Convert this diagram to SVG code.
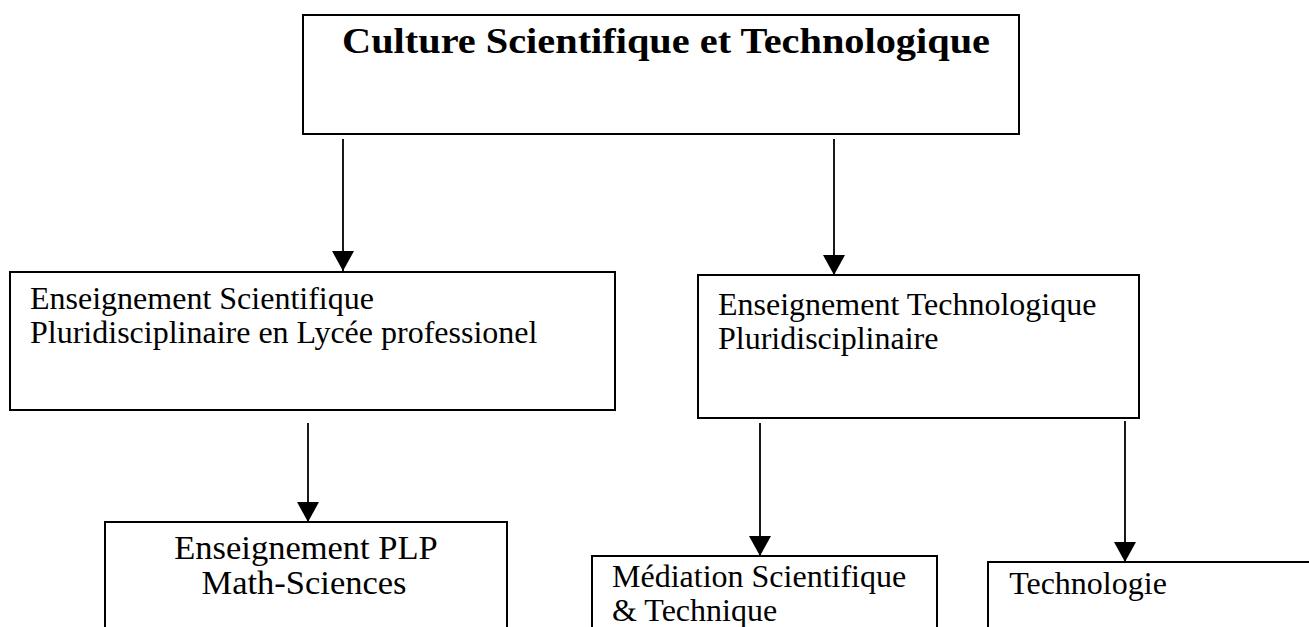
<svg xmlns="http://www.w3.org/2000/svg" width="1309" height="627" viewBox="0 0 1309 627">
<style>
.box{fill:#fff;stroke:#000;stroke-width:2}
.t{font-family:"Liberation Serif","Times New Roman",serif;font-size:32px;fill:#000}
.p{font-family:"Liberation Serif","Palatino Linotype",serif;font-size:34.5px;fill:#000}
.b{font-family:"Liberation Serif","Palatino Linotype",serif;font-size:35px;font-weight:bold;fill:#000}
.c{stroke:#000;stroke-width:1.8;fill:none;marker-end:url(#ah)}
</style>
<defs>
<marker id="ah" markerUnits="userSpaceOnUse" markerWidth="22" markerHeight="22" refX="20" refY="11" orient="auto">
<path d="M0,0 L20,11 L0,22 z" fill="#000"/>
</marker>
</defs>
<rect width="1309" height="627" fill="#fff"/>
<g id="connectors">
<line class="c" x1="343" y1="139" x2="343" y2="271"/>
<line class="c" x1="834" y1="139" x2="834" y2="275"/>
<line class="c" x1="308" y1="423" x2="308" y2="522"/>
<line class="c" x1="760" y1="423" x2="760" y2="556"/>
<line class="c" x1="1125" y1="421" x2="1125" y2="562"/>
</g>
<g id="culture">
<rect class="box" x="303" y="15" width="716" height="119"/>
<text class="b" x="342" y="53" textLength="648" lengthAdjust="spacingAndGlyphs">Culture Scientifique et Technologique</text>
</g>
<g id="esp">
<rect class="box" x="10" y="272" width="605" height="138"/>
<text class="t" x="30" y="309">Enseignement Scientifique</text>
<text class="t" x="30" y="343">Pluridisciplinaire en Lycée professionel</text>
</g>
<g id="etp">
<rect class="box" x="698" y="275" width="441" height="143"/>
<text class="t" x="718" y="315">Enseignement Technologique</text>
<text class="t" x="718" y="349">Pluridisciplinaire</text>
</g>
<g id="plp">
<rect class="box" x="105" y="522" width="402" height="120"/>
<text class="p" x="306" y="559" text-anchor="middle">Enseignement PLP</text>
<text class="p" x="304" y="594" text-anchor="middle">Math-Sciences</text>
</g>
<g id="mediation">
<rect class="box" x="592" y="556" width="345" height="90"/>
<text class="t" x="612" y="587">Médiation Scientifique</text>
<text class="t" x="612" y="621">&amp; Technique</text>
</g>
<g id="technologie">
<rect class="box" x="988" y="562" width="340" height="90"/>
<text class="t" x="1088" y="594" text-anchor="middle">Technologie</text>
</g>
</svg>
